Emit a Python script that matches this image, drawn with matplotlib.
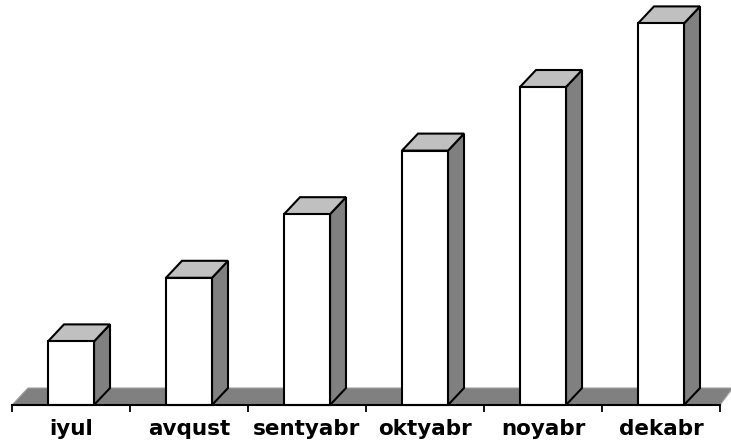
import matplotlib.pyplot as plt
from matplotlib.patches import Polygon, Rectangle
import numpy as np

months = ['iyul', 'avqust', 'sentyabr', 'oktyabr', 'noyabr', 'dekabr']
values = [1.0, 2.0, 3.0, 4.0, 5.0, 6.0]

front = 'white'
top_c = '#c0c0c0'
side_c = '#808080'

fig = plt.figure(figsize=(7.31, 4.47), dpi=100)
ax = fig.add_axes([12 / 731, 42 / 447, 708 / 731, 405 / 447])
ax.set_xlim(-0.5, 5.5)
ax.set_ylim(0, 405 / 63.6)

# depth offset of the 3d look, in data units
dx = 16 / 118
dy = 17 / 63.6
w = 0.39

# floor
floor = Polygon([(-0.5, 0), (5.5, 0), (5.5 + dx * 0.8, dy), (-0.5 + dx, dy)],
                closed=True, facecolor=side_c, edgecolor='#a0a0a0', lw=0.8, clip_on=False)
ax.add_patch(floor)

x = np.arange(len(values))
for xi, v in zip(x, values):
    l, r = xi - w / 2, xi + w / 2
    ax.add_patch(Polygon([(r, 0), (r + dx, dy), (r + dx, v + dy), (r, v)],
                         closed=True, facecolor=side_c, edgecolor='black', lw=1.5, clip_on=False))
    ax.add_patch(Polygon([(l, v), (r, v), (r + dx, v + dy), (l + dx, v + dy)],
                         closed=True, facecolor=top_c, edgecolor='black', lw=1.5, clip_on=False))
    ax.add_patch(Rectangle((l, 0), w, v, facecolor=front, edgecolor='black', lw=1.5, clip_on=False))

for s in ['top', 'right', 'left']:
    ax.spines[s].set_visible(False)
ax.spines['bottom'].set_linewidth(1.5)
ax.set_yticks([])
ax.set_xticks(x)
ax.set_xticklabels(months, fontsize=15.5, fontweight='bold')
ax.tick_params(axis='x', which='major', length=0, pad=10)
ax.set_xticks(np.arange(-0.5, 6, 1), minor=True)
ax.tick_params(axis='x', which='minor', length=5, width=1.3, direction='out')

fig.savefig('out.png', dpi=100)
